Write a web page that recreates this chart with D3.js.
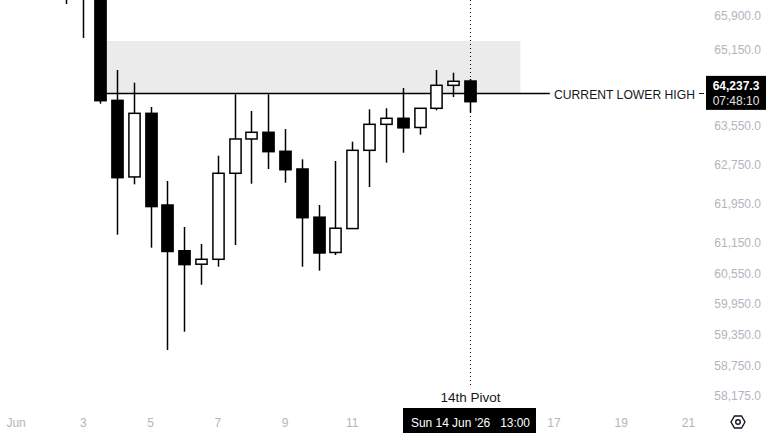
<!DOCTYPE html>
<html>
<head>
<meta charset="utf-8">
<script src="https://cdn.jsdelivr.net/npm/d3@7"></script>
<style>
  html, body { margin: 0; padding: 0; background: #ffffff; }
  svg { display: block; }
  text { font-family: "Liberation Sans", Arial, sans-serif; }
</style>
</head>
<body>
<svg id="chart" width="766" height="433"></svg>
<script>
// ---- data (12h candles) ----
const times = [
  "2026-06-02T13:00", "2026-06-03T01:00", "2026-06-03T13:00", "2026-06-04T01:00",
  "2026-06-04T13:00", "2026-06-05T01:00", "2026-06-05T13:00", "2026-06-06T01:00",
  "2026-06-06T13:00", "2026-06-07T01:00", "2026-06-07T13:00", "2026-06-08T01:00",
  "2026-06-08T13:00", "2026-06-09T01:00", "2026-06-09T13:00", "2026-06-10T01:00",
  "2026-06-10T13:00", "2026-06-11T01:00", "2026-06-11T13:00", "2026-06-12T01:00",
  "2026-06-12T13:00", "2026-06-13T01:00", "2026-06-13T13:00", "2026-06-14T01:00",
  "2026-06-14T13:00"
];
const opens  = [66900, 66600, 66850, 64080, 62490, 63808, 61917, 60995, 60726, 60824, 62565, 63273, 63412, 63018, 62653, 61670, 60960, 61440, 63038, 63578, 63704, 63512, 63913, 64397, 64488];
const highs  = [67100, 66900, 66950, 64721, 64452, 63940, 62407, 61472, 61130, 62927, 64207, 63857, 64207, 63481, 62852, 61917, 62817, 63217, 63892, 63913, 64340, 63913, 64721, 64664, 64531];
const lows   = [66138, 65405, 64010, 61317, 62339, 61056, 59040, 59396, 60319, 60676, 61110, 62351, 62653, 62372, 60676, 60597, 60910, 61440, 62284, 62783, 62989, 63362, 63871, 64151, 63821];
const closes = [66600, 66850, 64073, 62475, 63808, 61885, 60980, 60718, 60824, 62565, 63273, 63412, 63010, 62638, 61660, 60950, 61447, 63038, 63578, 63704, 63505, 63913, 64397, 64482, 64052];

const priceTicks = [65900, 65150, 63550, 62750, 61950, 61150, 60550, 59950, 59350, 58750, 58175];
const dayTicks = ["2026-06-01T01:00", "2026-06-03T01:00", "2026-06-05T01:00", "2026-06-07T01:00",
                  "2026-06-09T01:00", "2026-06-11T01:00", "2026-06-17T01:00", "2026-06-19T01:00", "2026-06-21T01:00"];
const dayLabels = ["Jun", "3", "5", "7", "9", "11", "17", "19", "21"];

const lowerHighPrice = 64237.3;
const lowerHighStart = "2026-06-03T13:00";
const lowerHighEnd = "2026-06-16T22:00";
const lowerHighLabel = "CURRENT LOWER HIGH";
const zoneTop = 65340;
const zoneStart = "2026-06-03T13:00";
const zoneEnd = "2026-06-16T01:00";
const pivotTime = "2026-06-14T13:00";
const pivotLabel = "14th Pivot";
const crosshairLabel = "Sun 14 Jun '26   13:00";
const priceLabel = "64,237.3";
const countdownLabel = "07:48:10";

// ---- scales ----
const parse = s => new Date(s + ":00Z");
const x = d3.scaleUtc()
  .domain([parse("2026-06-03T01:00"), parse("2026-06-21T01:00")])
  .range([83.3, 688.5]);
const y = d3.scaleLog().domain([58175, 65900]).range([395, 15]);

const svg = d3.select("#chart");
const fmt = d3.format(",.1f");

const candles = times.map((t, i) => ({
  t: parse(t), o: opens[i], h: highs[i], l: lows[i], c: closes[i]
}));

// ---- zone ----
svg.append("rect")
  .attr("x", x(parse(zoneStart)))
  .attr("y", y(zoneTop))
  .attr("width", x(parse(zoneEnd)) - x(parse(zoneStart)))
  .attr("height", y(lowerHighPrice) - y(zoneTop))
  .attr("fill", "#ebebeb");

// ---- lower high line ----
const ly = Math.round(y(lowerHighPrice)) + 0.5;
svg.append("line")
  .attr("x1", x(parse(lowerHighStart))).attr("x2", x(parse(lowerHighEnd)))
  .attr("y1", ly).attr("y2", ly)
  .attr("stroke", "#000").attr("stroke-width", 1.5);
svg.append("text")
  .attr("x", 554).attr("y", ly + 5)
  .attr("font-size", 13.5).attr("fill", "#131722")
  .attr("textLength", 141).attr("lengthAdjust", "spacingAndGlyphs")
  .text(lowerHighLabel);
svg.append("line")
  .attr("x1", 699).attr("x2", 704).attr("y1", ly).attr("y2", ly)
  .attr("stroke", "#131722").attr("stroke-width", 1);

// ---- crosshair ----
const px = Math.round(x(parse(pivotTime))) + 0.5;
svg.append("line")
  .attr("x1", px).attr("x2", px).attr("y1", 0).attr("y2", 386)
  .attr("stroke", "#000").attr("stroke-width", 1)
  .attr("stroke-dasharray", "1,3");

// ---- candles ----
const bw = 11.2;
const g = svg.append("g");
candles.forEach(d => {
  const cx = Math.round(x(d.t)) + 0.5;
  g.append("line")
    .attr("x1", cx).attr("x2", cx)
    .attr("y1", y(d.h)).attr("y2", y(d.l))
    .attr("stroke", "#000").attr("stroke-width", 1.5);
  const top = y(Math.max(d.o, d.c)), bot = y(Math.min(d.o, d.c));
  const down = d.c < d.o;
  g.append("rect")
    .attr("x", cx - bw / 2).attr("y", top)
    .attr("width", bw).attr("height", Math.max(1, bot - top))
    .attr("fill", down ? "#000" : "#fff")
    .attr("stroke", "#000").attr("stroke-width", 1.5);
});

// ---- pivot label ----
svg.append("text")
  .attr("x", px).attr("y", 402)
  .attr("text-anchor", "middle").attr("font-size", 13.5).attr("fill", "#131722")
  .text(pivotLabel);

// ---- price axis ----
svg.append("g").selectAll("text").data(priceTicks).enter().append("text")
  .attr("x", 761).attr("y", d => y(d) + 4.5)
  .attr("text-anchor", "end").attr("font-size", 12).attr("fill", "#b2b5be")
  .text(d => fmt(d));

// price label box
const boxTop = y(lowerHighPrice) - 17;
svg.append("rect").attr("x", 706).attr("y", boxTop).attr("width", 60).attr("height", 34).attr("fill", "#000");
svg.append("text").attr("x", 736).attr("y", boxTop + 14).attr("text-anchor", "middle")
  .attr("font-size", 12).attr("font-weight", "bold").attr("fill", "#fff").text(priceLabel);
svg.append("text").attr("x", 736).attr("y", boxTop + 29).attr("text-anchor", "middle")
  .attr("font-size", 12).attr("fill", "#e0e0e0").text(countdownLabel);

// ---- time axis ----
svg.append("g").selectAll("text").data(dayTicks).enter().append("text")
  .attr("x", d => x(parse(d))).attr("y", 427)
  .attr("text-anchor", "middle").attr("font-size", 12).attr("fill", "#b2b5be")
  .text((d, i) => dayLabels[i]);

// crosshair time label
svg.append("rect").attr("x", 403).attr("y", 408).attr("width", 133).attr("height", 25).attr("fill", "#000");
svg.append("text").attr("x", px).attr("y", 427).attr("text-anchor", "middle")
  .attr("font-size", 13).attr("fill", "#fff").attr("xml:space", "preserve")
  .attr("textLength", 119).attr("lengthAdjust", "spacingAndGlyphs")
  .style("white-space", "pre").text(crosshairLabel);

// settings icon
const gi = svg.append("g").attr("transform", "translate(738,422)");
const hex = d3.range(6).map(k => {
  const a = Math.PI / 3 * k;
  return [7 * Math.cos(a), 7 * Math.sin(a)];
});
gi.append("path").attr("d", "M" + hex.map(p => p.join(",")).join("L") + "Z")
  .attr("fill", "none").attr("stroke", "#131722").attr("stroke-width", 1.4);
gi.append("circle").attr("r", 2.3).attr("fill", "none").attr("stroke", "#131722").attr("stroke-width", 1.4);
</script>
</body>
</html>
